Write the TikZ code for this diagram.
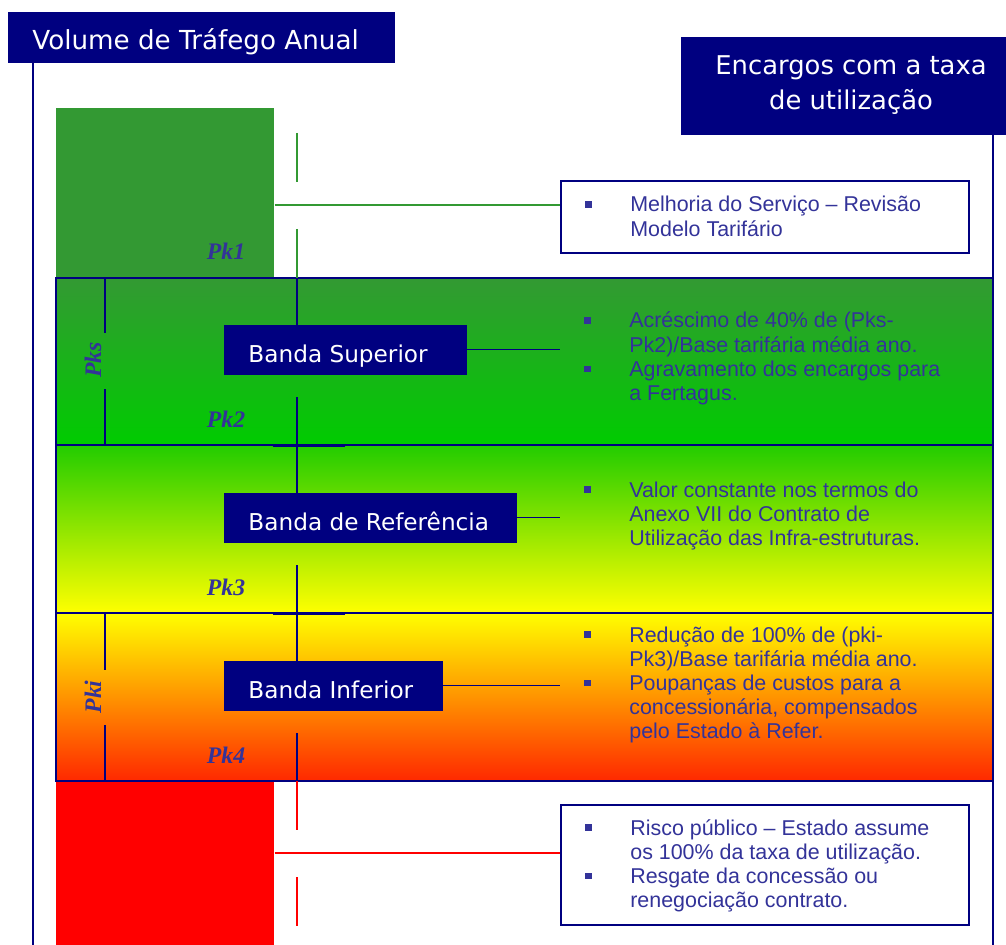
\documentclass[tikz,border=0pt]{standalone}
\usepackage{fontspec}
\setmainfont{Liberation Sans}
\newfontfamily\verdfont{DejaVu Sans}
\newfontfamily\pkfont{Liberation Serif}
\definecolor{navy}{RGB}{0,0,128}
\definecolor{inkblue}{RGB}{51,51,153}
\definecolor{leafgreen}{RGB}{51,153,51}
\definecolor{brightgreen}{RGB}{0,204,0}
\definecolor{limegreen}{RGB}{34,204,0}
\definecolor{signalred}{RGB}{255,0,0}
\definecolor{deepred}{RGB}{255,40,0}
\newcommand\bsq{\rule[2.4pt]{3.6pt}{3.6pt}}
\newcommand\bltab[1]{\begin{tabular}[t]{@{}l@{\hspace{22pt}}l@{}}#1\end{tabular}}
\tikzset{
  titlebox/.style={fill=navy, draw=navy, line width=0.5pt, text=white, inner xsep=13.66pt, inner ysep=0pt,
    anchor=base west, text height=21.62pt, text depth=6.83pt, font={\verdfont\fontsize{14.9pt}{17pt}\selectfont}},
  bandbox/.style={fill=navy, draw=navy, line width=0.5pt, text=white, inner xsep=13.66pt, inner ysep=0pt,
    anchor=base west, text height=21.06pt, text depth=6.83pt, font={\verdfont\fontsize{13.2pt}{16pt}\selectfont}},
  notebox/.style={draw=navy, line width=1pt, fill=white, minimum width=232.18pt, inner sep=0pt},
  notetext/.style={text=inkblue, inner sep=0pt, anchor=base west, font={\fontsize{12.2pt}{13.7pt}\selectfont}},
  pklabel/.style={text=inkblue, inner sep=0pt, font={\pkfont\bfseries\itshape\fontsize{13.5pt}{15pt}\selectfont}},
  axisline/.style={navy, line width=1.1pt},
  greenline/.style={leafgreen, line width=1.1pt},
  redline/.style={signalred, line width=1.1pt},
  bandframe/.style={navy, line width=1.4pt}
}
\begin{document}
\begin{tikzpicture}[x=0.02cm, y=-0.02cm]
  \useasboundingbox (0,0) rectangle (1006,945);
  % Titulos
  \node[titlebox] (vol) at (8,50) {\makebox[192.34pt][l]{Volume de Tráfego Anual}};
  \node[titlebox, anchor=center, text height=, text depth=, inner sep=0pt, align=center,
    minimum width=193.48pt, minimum height=55.2pt, font={\verdfont\fontsize{14.7pt}{19.92pt}\selectfont}]
    (enc) at (851,85.5) {Encargos com a taxa\\de utilização};
  \draw[axisline] (vol.south -| 33,0) -- (33,945);
  \draw[axisline] (enc.south -| 993,0) -- (993,945);
  \coordinate (ax) at (297,0);
  \coordinate (glink) at (297,205);
  \coordinate (rlink) at (297,853);
  % Blocos fora das bandas
  \node[fill=leafgreen, inner sep=0pt, minimum width=124.06pt, minimum height=96.74pt, anchor=north west] (topblk) at (56,108) {};
  \node[fill=signalred, inner sep=0pt, minimum width=124.06pt, minimum height=96.74pt, anchor=north west] (botblk) at (56,781) {};
  % Bandas
  \shade[top color=leafgreen, bottom color=brightgreen] (56,278) rectangle (993,445);
  \shade[top color=limegreen, bottom color=yellow] (56,445) rectangle (993,613);
  \shade[top color=yellow, bottom color=deepred] (56,613) rectangle (993,781);
  \draw[bandframe] (56,278) rectangle (993,781);
  \draw[bandframe] (56,445) -- (993,445);
  \draw[bandframe] (56,613) -- (993,613);
  \draw[navy, line width=1.7pt] (273,445.6) -- (345,445.6);
  \draw[navy, line width=1.7pt] (273,613.6) -- (345,613.6);
  % Pks / Pki
  \draw[axisline] (105,278) -- (105,333);
  \draw[axisline] (105,389) -- (105,445);
  \draw[axisline] (105,613) -- (105,670);
  \draw[axisline] (105,725) -- (105,781);
  \node[pklabel, rotate=90] (Pks) at (93,360) {Pks};
  \node[pklabel, rotate=90] (Pki) at (93,697) {Pki};
  \foreach \lab/\y in {Pk1/260, Pk2/427, Pk3/595, Pk4/763} {
    \node[pklabel, anchor=base] (\lab) at (226,\y) {\lab};
  }
  % Caixas das bandas
  \node[bandbox] (sup) at (224,362) {\makebox[110.4pt][l]{Banda Superior}};
  \node[bandbox] (ref) at (224,530) {\makebox[138.85pt][l]{Banda de Referência}};
  \node[bandbox] (inf) at (224,698) {\makebox[96.74pt][l]{Banda Inferior}};
  % Notas
  \node[notebox, minimum height=40.97pt] (nmel) at (765,217) {};
  \node[notebox, minimum height=68.29pt] (nris) at (765,865) {};
  \node[notetext] (tmel) at (585,212) {\bltab{\bsq & Melhoria do Serviço – Revisão\\ & Modelo Tarifário}};
  \node[notetext] (tsup) at (584,328) {\bltab{\bsq & Acréscimo de 40\% de (Pks-\\ & Pk2)/Base tarifária média ano.\\
    \bsq & Agravamento dos encargos para\\ & a Fertagus.}};
  \node[notetext] (tref) at (584,497) {\bltab{\bsq & Valor constante nos termos do\\ & Anexo VII do Contrato de\\
    & Utilização das Infra-estruturas.}};
  \node[notetext] (tinf) at (584,642) {\bltab{\bsq & Redução de 100\% de (pki-\\ & Pk3)/Base tarifária média ano.\\
    \bsq & Poupanças de custos para a\\ & concessionária, compensados\\ & pelo Estado à Refer.}};
  \node[notetext] (tris) at (585,835) {\bltab{\bsq & Risco público – Estado assume\\ & os 100\% da taxa de utilização.\\
    \bsq & Resgate da concessão ou\\ & renegociação contrato.}};
  % Eixo central
  \draw[greenline] (297,133) -- (297,182);
  \draw[greenline] (297,229) -- (297,278);
  \draw[axisline] (297,278) -- (sup.north -| ax);
  \draw[axisline] (297,397) -- (ref.north -| ax);
  \draw[axisline] (297,565) -- (inf.north -| ax);
  \draw[axisline] (297,733) -- (297,781);
  \draw[redline] (297,781) -- (297,830);
  \draw[redline] (297,877) -- (297,926);
  % Ligacoes
  \draw[greenline] (glink -| topblk.east) -- (glink -| nmel.west);
  \draw[redline] (rlink -| botblk.east) -- (rlink -| nris.west);
  \draw[axisline] (sup.east) -- (sup.east -| nmel.west);
  \draw[axisline, line width=0.8pt] (ref.east) -- (ref.east -| nmel.west);
  \draw[axisline] (inf.east) -- (inf.east -| nmel.west);
\end{tikzpicture}
\end{document}
